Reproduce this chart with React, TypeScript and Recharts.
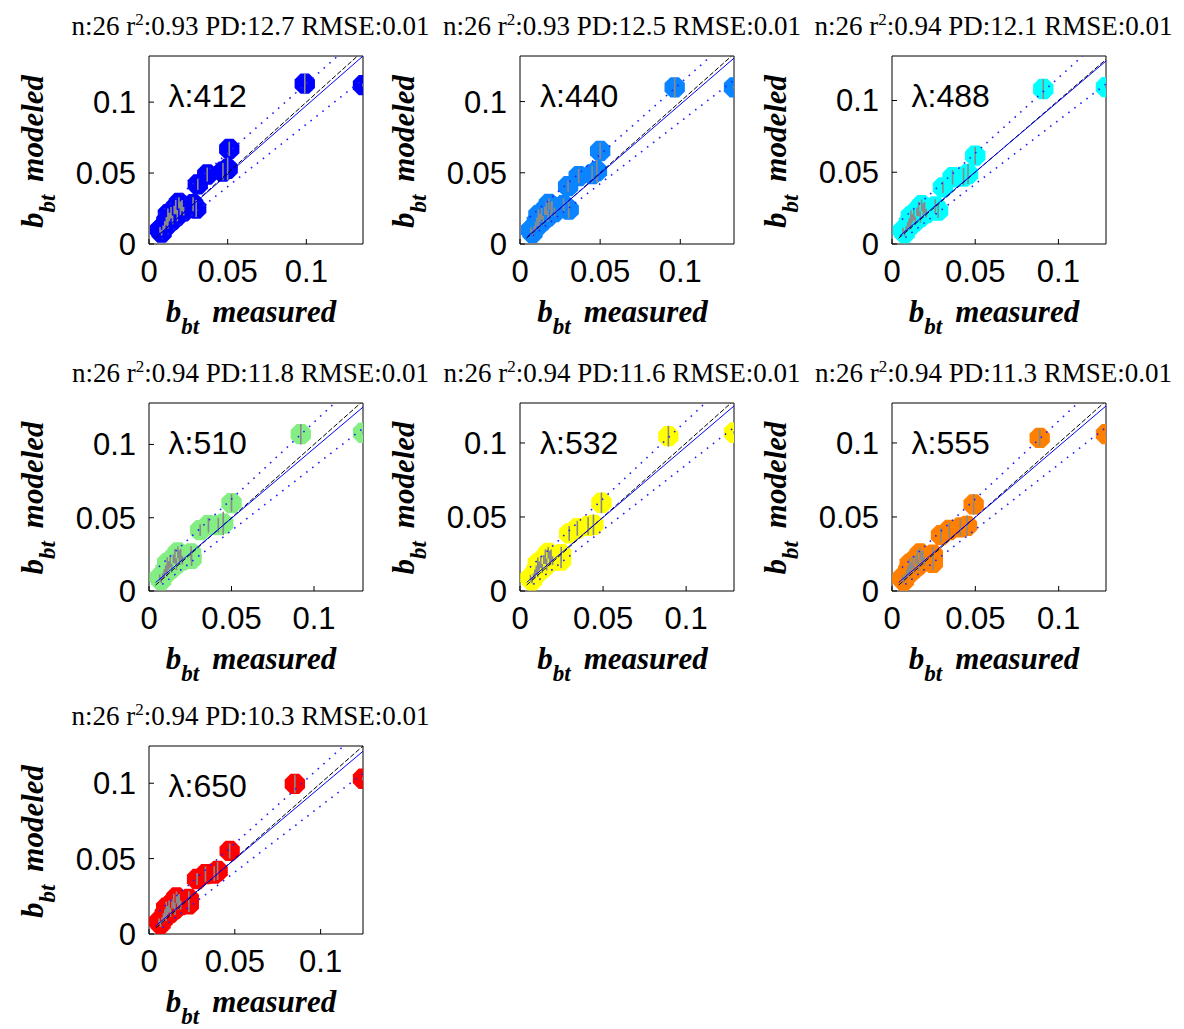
import React from "react";
import { ScatterChart, Scatter, XAxis, YAxis } from "recharts";

// wavelength of each panel and the statistics printed in the titles
const wavelengths = [412, 440, 488, 510, 532, 555, 650];
const nValues = [26, 26, 26, 26, 26, 26, 26];
const r2Values = ["0.93", "0.93", "0.94", "0.94", "0.94", "0.94", "0.94"];
const pdValues = ["12.7", "12.5", "12.1", "11.8", "11.6", "11.3", "10.3"];
const rmseValues = ["0.01", "0.01", "0.01", "0.01", "0.01", "0.01", "0.01"];
const colors = ["#0000ff", "#0a84ff", "#00ffff", "#84ee84", "#ffff00", "#ff8000", "#ff0000"];

// axis ranges (tight on the data)
const xMax = [0.136, 0.1335, 0.1286, 0.1297, 0.1288, 0.1284, 0.1247];
const yMax = [0.1325, 0.132, 0.131, 0.1283, 0.127, 0.127, 0.1247];
const axisTicks = [0, 0.05, 0.1];

// b_bt measured / modeled, and the spread of the model (error bars)
const measured412 = [0.099, 0.136, 0.051, 0.05, 0.047, 0.037, 0.031, 0.03, 0.021, 0.019, 0.017, 0.016, 0.014, 0.013, 0.012, 0.011, 0.01, 0.009, 0.008, 0.018, 0.022, 0.015, 0.028, 0.012, 0.02, 0.007];
const modeled412 = [0.113, 0.112, 0.067, 0.053, 0.051, 0.049, 0.042, 0.025, 0.027, 0.029, 0.026, 0.024, 0.022, 0.019, 0.021, 0.016, 0.013, 0.011, 0.008, 0.02, 0.023, 0.017, 0.028, 0.014, 0.025, 0.01];
const err412 = [0.007, 0.001, 0.005, 0.008, 0.006, 0.005, 0.004, 0.006, 0.004, 0.004, 0.005, 0.003, 0.004, 0.003, 0.004, 0.003, 0.003, 0.002, 0.002, 0.004, 0.003, 0.003, 0.005, 0.003, 0.005, 0.002];

const measured440 = [0.0965, 0.1335, 0.05, 0.048, 0.045, 0.0366, 0.03, 0.0304, 0.02, 0.018, 0.0165, 0.0155, 0.0135, 0.0125, 0.0115, 0.0105, 0.0097, 0.0088, 0.0078, 0.0175, 0.0215, 0.0145, 0.0272, 0.0117, 0.0194, 0.0068];
const modeled440 = [0.11, 0.11, 0.0653, 0.0512, 0.049, 0.0477, 0.0406, 0.0241, 0.0262, 0.0281, 0.0253, 0.0233, 0.0214, 0.0185, 0.0204, 0.0156, 0.0127, 0.0107, 0.0079, 0.0195, 0.0224, 0.0166, 0.0272, 0.0137, 0.0243, 0.0098];
const err440 = [0.007, 0.001, 0.006, 0.008, 0.006, 0.005, 0.004, 0.006, 0.004, 0.004, 0.005, 0.003, 0.004, 0.003, 0.004, 0.003, 0.003, 0.002, 0.002, 0.004, 0.003, 0.003, 0.005, 0.003, 0.005, 0.002];

const measured488 = [0.0909, 0.1286, 0.05, 0.0457, 0.043, 0.0364, 0.0306, 0.0277, 0.0196, 0.0178, 0.016, 0.015, 0.0131, 0.0122, 0.0113, 0.0103, 0.0094, 0.0085, 0.0076, 0.017, 0.0206, 0.014, 0.026, 0.0113, 0.0188, 0.0066];
const modeled488 = [0.108, 0.1093, 0.0616, 0.0488, 0.047, 0.0465, 0.0395, 0.0232, 0.0252, 0.027, 0.0244, 0.0224, 0.0206, 0.0178, 0.0196, 0.015, 0.0122, 0.0103, 0.0076, 0.0188, 0.0215, 0.016, 0.0262, 0.0132, 0.0234, 0.0094];
const err488 = [0.007, 0.001, 0.006, 0.007, 0.006, 0.005, 0.004, 0.005, 0.004, 0.004, 0.005, 0.003, 0.004, 0.003, 0.004, 0.003, 0.003, 0.002, 0.002, 0.004, 0.003, 0.003, 0.005, 0.003, 0.005, 0.002];

const measured510 = [0.092, 0.1297, 0.05, 0.045, 0.042, 0.036, 0.031, 0.0258, 0.0192, 0.0175, 0.0157, 0.0147, 0.0128, 0.012, 0.011, 0.0101, 0.0092, 0.0083, 0.0074, 0.0166, 0.0202, 0.0138, 0.0255, 0.011, 0.0184, 0.0065];
const modeled510 = [0.107, 0.108, 0.06, 0.046, 0.045, 0.045, 0.0415, 0.022, 0.0246, 0.0264, 0.0238, 0.0219, 0.0201, 0.0174, 0.0191, 0.0146, 0.0119, 0.0101, 0.0074, 0.0183, 0.021, 0.0156, 0.0256, 0.0129, 0.0228, 0.0092];
const err510 = [0.007, 0.001, 0.006, 0.008, 0.005, 0.005, 0.004, 0.005, 0.004, 0.004, 0.005, 0.003, 0.004, 0.003, 0.004, 0.003, 0.003, 0.002, 0.002, 0.004, 0.003, 0.003, 0.005, 0.003, 0.005, 0.002];

const measured532 = [0.0893, 0.1288, 0.049, 0.0442, 0.041, 0.0345, 0.0296, 0.0247, 0.0187, 0.017, 0.0153, 0.0143, 0.0125, 0.0116, 0.0107, 0.0098, 0.0089, 0.0081, 0.0072, 0.0161, 0.0196, 0.0134, 0.0248, 0.0107, 0.0179, 0.0063];
const modeled532 = [0.1046, 0.1069, 0.0596, 0.0447, 0.044, 0.0424, 0.0389, 0.0205, 0.024, 0.0258, 0.0232, 0.0213, 0.0196, 0.0169, 0.0187, 0.0142, 0.0116, 0.0098, 0.0072, 0.0178, 0.0205, 0.0152, 0.0249, 0.0125, 0.0222, 0.0089];
const err532 = [0.007, 0.001, 0.007, 0.007, 0.006, 0.005, 0.005, 0.005, 0.004, 0.004, 0.005, 0.003, 0.004, 0.003, 0.004, 0.003, 0.003, 0.002, 0.002, 0.004, 0.003, 0.003, 0.005, 0.003, 0.005, 0.002];

const measured555 = [0.0886, 0.1284, 0.049, 0.045, 0.041, 0.0344, 0.0294, 0.0245, 0.0185, 0.0168, 0.0151, 0.0141, 0.0123, 0.0115, 0.0106, 0.0097, 0.0088, 0.008, 0.0071, 0.0159, 0.0194, 0.0132, 0.0245, 0.0106, 0.0177, 0.0062];
const modeled555 = [0.1034, 0.106, 0.0585, 0.044, 0.043, 0.0412, 0.0378, 0.019, 0.0236, 0.0254, 0.0228, 0.021, 0.0193, 0.0166, 0.0184, 0.014, 0.0114, 0.0096, 0.0071, 0.0175, 0.0202, 0.0149, 0.0245, 0.0123, 0.0219, 0.0088];
const err555 = [0.006, 0.001, 0.007, 0.007, 0.006, 0.005, 0.005, 0.005, 0.004, 0.004, 0.005, 0.003, 0.004, 0.003, 0.004, 0.003, 0.003, 0.002, 0.002, 0.004, 0.003, 0.003, 0.005, 0.003, 0.005, 0.002];

const measured650 = [0.085, 0.1247, 0.047, 0.04, 0.038, 0.0329, 0.028, 0.0232, 0.0176, 0.016, 0.0144, 0.0134, 0.0117, 0.0109, 0.01, 0.0092, 0.0084, 0.0076, 0.0067, 0.0151, 0.0184, 0.0126, 0.0232, 0.01, 0.0168, 0.0059];
const modeled650 = [0.0996, 0.103, 0.0551, 0.0418, 0.04, 0.0397, 0.0365, 0.0196, 0.0225, 0.0242, 0.0217, 0.02, 0.0183, 0.0158, 0.0175, 0.0133, 0.0108, 0.0091, 0.0067, 0.0166, 0.0192, 0.0142, 0.0233, 0.0117, 0.0208, 0.0083];
const err650 = [0.006, 0.001, 0.005, 0.006, 0.005, 0.005, 0.004, 0.005, 0.004, 0.004, 0.005, 0.003, 0.004, 0.003, 0.004, 0.003, 0.003, 0.002, 0.002, 0.004, 0.003, 0.003, 0.005, 0.003, 0.005, 0.002];

const measuredAll = [measured412, measured440, measured488, measured510, measured532, measured555, measured650];
const modeledAll = [modeled412, modeled440, modeled488, modeled510, modeled532, modeled555, modeled650];
const errAll = [err412, err440, err488, err510, err532, err555, err650];

// regression line end points [x0, y0, x1, y1]
const fitLines = [
  [0.004, 0.0045, 0.136, 0.1325],
  [0.0045, 0.0052, 0.1335, 0.1305],
  [0.0045, 0.0055, 0.1286, 0.1275],
  [0.004, 0.0058, 0.1297, 0.1255],
  [0.004, 0.0058, 0.1288, 0.125],
  [0.004, 0.0058, 0.1284, 0.125],
  [0.0037, 0.0052, 0.1247, 0.1212],
];
// dotted prediction bands [x0, y0, x1, y1]
const upperBands = [
  [0.006, 0.021, 0.1199, 0.1325],
  [0.006, 0.0188, 0.1192, 0.132],
  [0.006, 0.017, 0.1145, 0.131],
  [0.006, 0.0165, 0.1125, 0.1283],
  [0.006, 0.016, 0.1115, 0.127],
  [0.006, 0.0158, 0.1115, 0.127],
  [0.006, 0.0151, 0.1134, 0.1247],
];
const lowerBands = [
  [0.008, 0.0035, 0.136, 0.116],
  [0.008, 0.0058, 0.1335, 0.115],
  [0.008, 0.0045, 0.1286, 0.1115],
  [0.008, 0.0045, 0.1297, 0.111],
  [0.008, 0.0045, 0.1288, 0.1105],
  [0.008, 0.0045, 0.1284, 0.1105],
  [0.008, 0.0043, 0.1247, 0.1065],
];

const plotLefts = [148.5, 520, 891.5];
const plotTops = [56, 402.5, 746];
const plotW = 214;
const plotH = 188;

const sansFont = "'Liberation Sans', Arial, sans-serif";
const serifFont = "'Liberation Serif', 'Times New Roman', serif";

const fmtTick = (v: number) => (v === 0 ? "0" : String(v));

const Octagon = (props: any) => {
  const { cx, cy, fill } = props;
  if (cx == null || cy == null) return <g />;
  const r = 11;
  const pts = [0, 1, 2, 3, 4, 5, 6, 7]
    .map((k) => {
      const a = Math.PI / 8 + (k * Math.PI) / 4;
      return `${cx + r * Math.cos(a)},${cy + r * Math.sin(a)}`;
    })
    .join(" ");
  return <polygon points={pts} fill={fill} />;
};

const Nothing = () => <g />;

// the scatter "line" gets the pixel points; draw them as separate vertical segments (pairs)
const ErrSegments = (p: any) => {
  const pts = p.points || [];
  let d = "";
  for (let i = 0; i + 1 < pts.length; i += 2) {
    d += `M${pts[i].x},${pts[i].y}L${pts[i + 1].x},${pts[i + 1].y}`;
  }
  return <path d={d} stroke="#8a8a8a" strokeWidth={1.6} fill="none" />;
};

const Panel = ({ idx }: { idx: number }) => {
  const left = plotLefts[idx % 3];
  const top = plotTops[Math.floor(idx / 3)];
  const data = measuredAll[idx].map((x, i) => ({ x, y: modeledAll[idx][i] }));
  const errData: { x: number; y: number }[] = [];
  measuredAll[idx].forEach((x, i) => {
    errData.push({ x, y: modeledAll[idx][i] - errAll[idx][i] });
    errData.push({ x, y: modeledAll[idx][i] + errAll[idx][i] });
  });
  const m = Math.min(xMax[idx], yMax[idx]);
  const diag = [
    { x: 0.004, y: 0.004 },
    { x: m, y: m },
  ];
  const f = fitLines[idx];
  const fit = [
    { x: f[0], y: f[1] },
    { x: f[2], y: f[3] },
  ];
  const u = upperBands[idx];
  const upper = [
    { x: u[0], y: u[1] },
    { x: u[2], y: u[3] },
  ];
  const l = lowerBands[idx];
  const lower = [
    { x: l[0], y: l[1] },
    { x: l[2], y: l[3] },
  ];
  const tickStyle = { fill: "#000", fontSize: 31, fontFamily: sansFont };
  return (
    <div style={{ position: "absolute", left: left - 148, top: top - 56 }}>
      <ScatterChart width={382} height={354} margin={{ top: 46, right: 10, bottom: 70, left: 88 }}>
        <XAxis type="number" dataKey="x" domain={[0, xMax[idx]]} ticks={axisTicks} allowDataOverflow
          tickFormatter={fmtTick} tickSize={-5} tickMargin={21} height={40} stroke="#000" tick={tickStyle} />
        <XAxis xAxisId="top" orientation="top" type="number" dataKey="x" domain={[0, xMax[idx]]} ticks={axisTicks}
          allowDataOverflow tick={false} tickSize={-5} height={10} stroke="#000" />
        <YAxis type="number" dataKey="y" domain={[0, yMax[idx]]} ticks={axisTicks} allowDataOverflow
          tickFormatter={fmtTick} tickSize={-5} tickMargin={18} width={60} stroke="#000" tick={tickStyle} />
        <YAxis yAxisId="right" orientation="right" type="number" dataKey="y" domain={[0, yMax[idx]]} ticks={axisTicks}
          allowDataOverflow tick={false} tickSize={-5} width={10} stroke="#000" />
        <Scatter data={data} fill={colors[idx]} shape={<Octagon fill={colors[idx]} />} isAnimationActive={false} />
        <Scatter data={errData} shape={<Nothing />} line={ErrSegments} lineType="joint" isAnimationActive={false} />
        <Scatter data={upper} shape={<Nothing />} isAnimationActive={false}
          line={{ stroke: "#2020ff", strokeWidth: 1.6, strokeDasharray: "1.6 6" }} />
        <Scatter data={lower} shape={<Nothing />} isAnimationActive={false}
          line={{ stroke: "#2020ff", strokeWidth: 1.6, strokeDasharray: "1.6 6" }} />
        <Scatter data={diag} shape={<Nothing />} isAnimationActive={false}
          line={{ stroke: "#000", strokeWidth: 1, strokeDasharray: "5 2" }} />
        <Scatter data={fit} shape={<Nothing />} isAnimationActive={false}
          line={{ stroke: "#0000ff", strokeWidth: 1 }} />
      </ScatterChart>
    </div>
  );
};

const PanelText = ({ idx }: { idx: number }) => {
  const left = plotLefts[idx % 3];
  const top = plotTops[Math.floor(idx / 3)];
  return (
    <g>
      <text x={left + plotW / 2 - 5} y={top - 21} textAnchor="middle" fontFamily={serifFont} fontSize={27}>
        {`n:${nValues[idx]} r`}
        <tspan dy={-10} fontSize={17}>2</tspan>
        <tspan dy={10}>{`:${r2Values[idx]} PD:${pdValues[idx]} RMSE:${rmseValues[idx]}`}</tspan>
      </text>
      <text x={left + 20} y={top + 51} fontFamily={sansFont} fontSize={32}>
        {`λ:${wavelengths[idx]}`}
      </text>
      <text x={left + 102.5} y={top + plotH + 78} textAnchor="middle" fontFamily={serifFont} fontStyle="italic"
        fontWeight="bold" fontSize={31}>
        b<tspan dy={12} fontSize={23}>bt</tspan>
        <tspan dy={-12} dx={13}>measured</tspan>
      </text>
      <text transform={`translate(${left - 106}, ${top + 95.5}) rotate(-90)`} textAnchor="middle"
        fontFamily={serifFont} fontStyle="italic" fontWeight="bold" fontSize={31}>
        b<tspan dy={12} fontSize={23}>bt</tspan>
        <tspan dy={-12} dx={13}>modeled</tspan>
      </text>
    </g>
  );
};

export default function App() {
  return (
    <div style={{ position: "absolute", left: 0, top: 0, width: 1184, height: 1029, background: "#fff" }}>
      {wavelengths.map((w, i) => (
        <Panel key={w} idx={i} />
      ))}
      <svg width={1184} height={1029} style={{ position: "absolute", left: 0, top: 0, pointerEvents: "none" }}>
        {wavelengths.map((w, i) => (
          <PanelText key={w} idx={i} />
        ))}
      </svg>
    </div>
  );
}
